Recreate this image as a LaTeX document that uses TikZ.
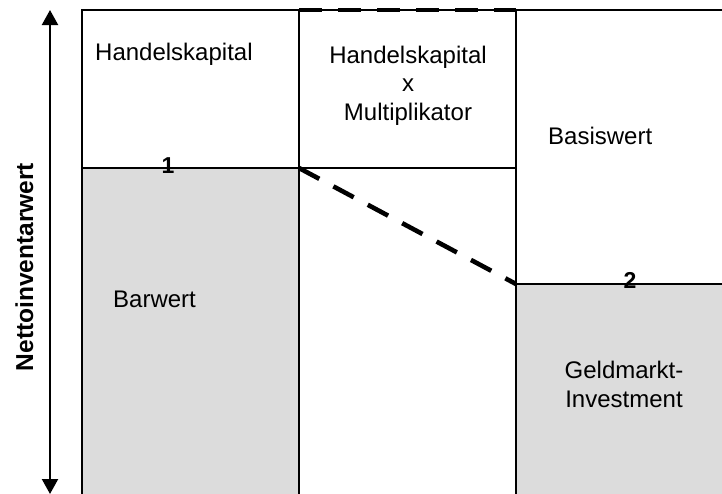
\documentclass[tikz,border=0pt]{standalone}
\usepackage{fontspec}
\setmainfont{Liberation Sans}
\usetikzlibrary{arrows.meta}
\definecolor{fillgray}{HTML}{DCDCDC}
\begin{document}
\begin{tikzpicture}[x=1pt,y=-1pt,
  frame/.style={line width=1.4pt},
  boost/.style={line width=4.6pt,dash pattern=on 23pt off 16pt},
  lbl/.style={font=\fontsize{24}{28.5}\selectfont,align=center,inner sep=0pt},
  num/.style={font=\fontsize{23}{27}\selectfont\bfseries,inner sep=0pt},
  axis/.style={line width=2.2pt,{Triangle[length=15pt,width=16pt]}-{Triangle[length=15pt,width=16pt]}}]
\useasboundingbox (0,0) rectangle (722,493);

% key corners
\coordinate (tl) at (82,10);
\coordinate (tm) at (299,10);
\coordinate (tr) at (516,10);
\coordinate (p1) at (299,168);
\coordinate (p2) at (516,284);
\coordinate (axtop) at (50,10);
\coordinate (axbot) at (50,494);

% shaded areas
\fill[fillgray] (82,168) rectangle (299,494);
\fill[fillgray] (516,284) rectangle (723,494);

% frame lines
\draw[frame] (82,494) -- (tl) -- (723,10);
\draw[frame] (tm) -- (299,494);
\draw[frame] (tr) -- (516,494);
\draw[frame] (82,168) -- (516,168);
\draw[frame] (p2) -- (723,284);

% dashed connectors
\draw[boost] (tm) -- (tr);
\draw[boost] (p1) -- (p2);

% vertical axis
\draw[axis] (axbot) -- (axtop);
\node[num,font=\fontsize{24.5}{28}\selectfont\bfseries,rotate=90,anchor=base] (nav) at (33,267) {Nettoinventarwert};

% labels (base anchor of a multi-line node sits on its last line)
\node[lbl,anchor=base west] (hk) at (95,60) {Handelskapital};
\node[lbl,anchor=base] (hkm) at (408,120) {Handelskapital\\x\\Multiplikator};
\node[lbl,anchor=base west] (bw) at (548,144) {Basiswert};
\node[lbl,anchor=base west] (bar) at (113,307) {Barwert};
\node[lbl,anchor=base] (gm) at (624,407) {Geldmarkt-\\Investment};
\node[num] (n1) at (168,166) {1};
\node[num] (n2) at (630,280) {2};
\end{tikzpicture}
\end{document}
